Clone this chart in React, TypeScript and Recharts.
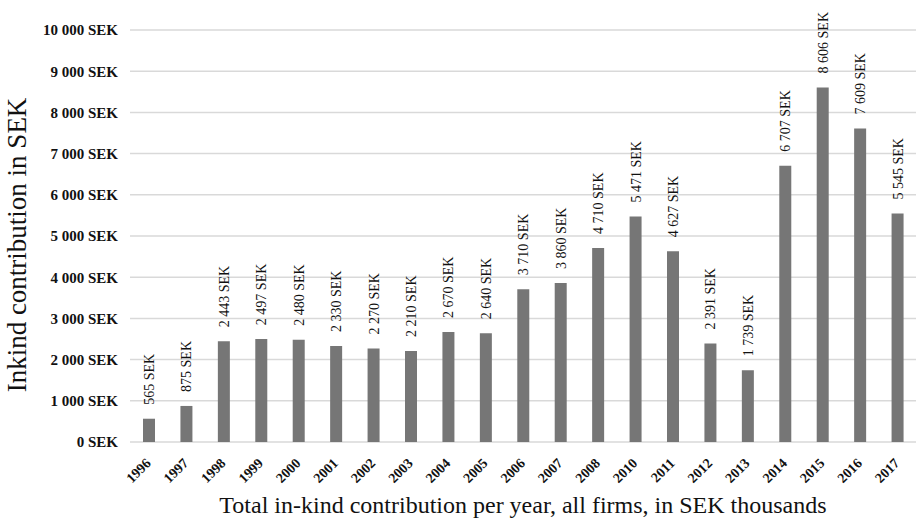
import { BarChart, Bar, XAxis, YAxis, CartesianGrid, LabelList } from 'recharts';

const years = ['1996', '1997', '1998', '1999', '2000', '2001', '2002', '2003', '2004', '2005', '2006', '2007', '2008', '2010', '2011', '2012', '2013', '2014', '2015', '2016', '2017'];
const contributions = [565, 875, 2443, 2497, 2480, 2330, 2270, 2210, 2670, 2640, 3710, 3860, 4710, 5471, 4627, 2391, 1739, 6707, 8606, 7609, 5545];
const yTicks = [0, 1000, 2000, 3000, 4000, 5000, 6000, 7000, 8000, 9000, 10000];

const data = years.map((year, i) => ({ year, value: contributions[i] }));

const SERIF = 'Liberation Serif, Times New Roman, Times, serif';

const sek = (v: number) => v.toString().replace(/\B(?=(\d{3})+(?!\d))/g, ' ') + ' SEK';

const XTick = ({ x, y, payload }: any) => (
  <text
    x={x + 3}
    y={y + 14}
    transform={`rotate(-45, ${x + 3}, ${y + 14})`}
    textAnchor="end"
    style={{ fontFamily: SERIF, fontWeight: 'bold', fontSize: 14 }}
    fill="#111"
  >
    {payload.value}
  </text>
);

const ValueLabel = ({ x, y, width, value }: any) => {
  const cx = x + width / 2 + 5;
  const cy = y - 14;
  return (
    <text x={cx} y={cy} transform={`rotate(-90, ${cx}, ${cy})`} textAnchor="start" style={{ fontFamily: SERIF, fontSize: 14 }} fill="#111">
      {sek(value)}
    </text>
  );
};

export default function App() {
  return (
    <div style={{ position: 'absolute', left: 0, top: 0, background: '#fff', fontFamily: SERIF }}>
      <BarChart width={924} height={525} data={data} margin={{ top: 30, right: 8, left: 0, bottom: 0 }} style={{ fontFamily: SERIF }}>
        <CartesianGrid vertical={false} stroke="#d9d9d9" strokeWidth={1.5} />
        <XAxis
          dataKey="year"
          height={83}
          axisLine={false}
          tickLine={false}
          interval={0}
          tick={<XTick />}
          label={{
            content: () => (
              <text x={523} y={513} textAnchor="middle" style={{ fontFamily: SERIF, fontSize: 24 }} fill="#111">
                Total in-kind contribution per year, all firms, in SEK thousands
              </text>
            ),
          }}
        />
        <YAxis
          width={130}
          domain={[0, 10000]}
          ticks={yTicks}
          interval={0}
          axisLine={false}
          tickLine={false}
          tickMargin={6}
          tickFormatter={sek}
          tick={{ fontWeight: 'bold', fontSize: 15, fill: '#111', style: { fontFamily: SERIF } }}
          label={{
            content: () => (
              <text x={26} y={245} transform="rotate(-90, 26, 245)" textAnchor="middle" style={{ fontFamily: SERIF, fontSize: 27 }} fill="#111">
                Inkind contribution in SEK
              </text>
            ),
          }}
        />
        <Bar dataKey="value" fill="#767676" barSize={12} isAnimationActive={false}>
          <LabelList dataKey="value" content={<ValueLabel />} />
        </Bar>
      </BarChart>
    </div>
  );
}
